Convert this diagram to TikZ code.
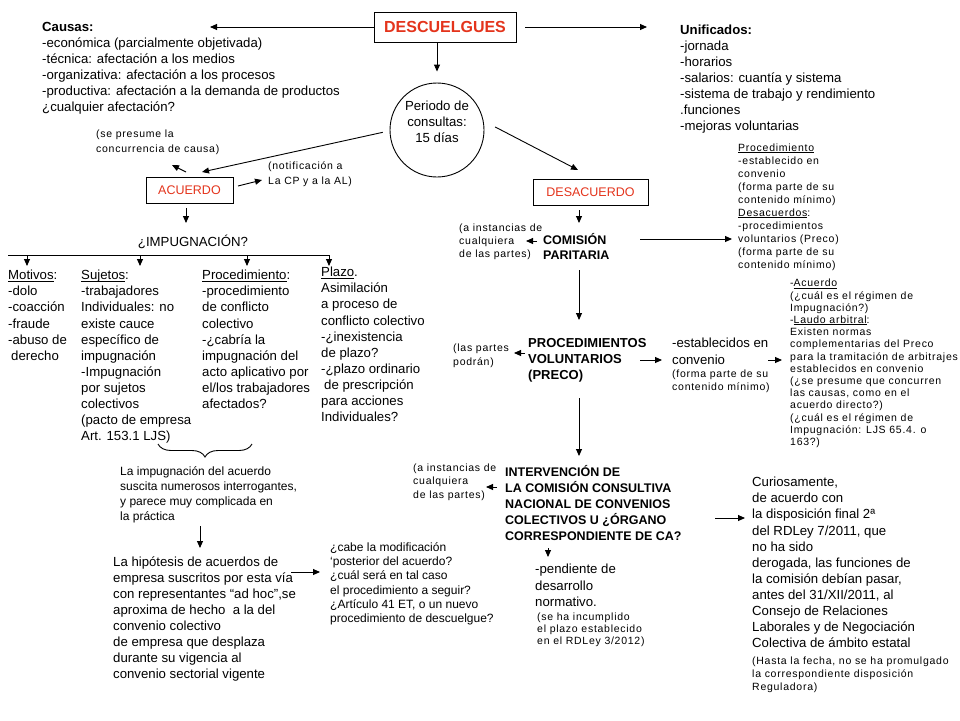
\documentclass[tikz,border=0pt]{standalone}
\usepackage{fontspec}
\setmainfont{Liberation Sans}
\newfontfamily\spacedsans[LetterSpace=7]{Liberation Sans}
\usetikzlibrary{arrows.meta,decorations.pathreplacing}
\definecolor{descred}{RGB}{228,52,28}
\newcommand{\mf}[1]{\fontsize{13.2}{#1}\selectfont}
\newcommand{\smf}[1]{\spacedsans\fontsize{10.5}{#1}\selectfont}
\newcommand{\undl}[1]{\setbox0\hbox{#1}\rlap{\rule[-1.6pt]{\wd0}{0.7pt}}\box0}
\tikzset{
  txt/.style={anchor=north west, inner sep=0pt, align=left},
  redbox/.style={draw, line width=0.9pt, inner sep=0pt, text=descred},
  arr/.style={draw, line width=0.9pt, -{Triangle[length=7pt,width=6pt]}},
  ln/.style={draw, line width=0.9pt}
}
\begin{document}
\begin{tikzpicture}[x=1pt,y=-1pt]
\useasboundingbox[fill=white] (0,0) rectangle (960,720);

% ---------- top ----------
\node[redbox, minimum width=142pt, minimum height=30pt, font=\fontsize{16}{18}\selectfont\bfseries] (desc) at (445,27) {DESCUELGUES};
\node[txt, font=\mf{16}] (causas) at (42,22.5) {\textbf{Causas:}\\
-económica (parcialmente objetivada)\\
-técnica: afectación a los medios\\
-organizativa: afectación a los procesos\\
-productiva: afectación a la demanda de productos\\
¿cualquier afectación?};
\node[txt, font=\mf{16}] (unif) at (680,25) {\textbf{Unificados:}\\-jornada\\-horarios\\-salarios: cuantía y sistema\\-sistema de trabajo y rendimiento\\.funciones\\-mejoras voluntarias};
\coordinate (causasTip) at (210,27);
\coordinate (unifTip) at (647,27);
\draw[arr] (desc.west) -- (causasTip);
\draw[arr, shorten <=9pt] (desc.east) -- (unifTip);

\node[draw, circle, line width=0.9pt, minimum size=94pt, inner sep=0pt] (circ) at (437,130) {};
\node[align=center, inner sep=0pt, font=\mf{16}] (circtxt) at (437,122) {Periodo de\\consultas:\\15 días};
\draw[arr, shorten >=11pt] (desc.south -| circ.north) -- (circ.north);

% ---------- ACUERDO ----------
\node[redbox, minimum width=87pt, minimum height=26pt, font=\fontsize{12.5}{14}\selectfont] (acu) at (189.5,190) {ACUERDO};
\coordinate (acuTip) at (202,172);
\draw[arr, shorten <=7pt] (circ.181.8) -- (acuTip);
\node[txt, font=\smf{15}] (presume) at (96,130) {(se presume la\\concurrencia de causa)};
\node[txt, font=\smf{15}] (notif) at (268,162) {(notificación a\\La CP y a la AL)};
\coordinate (presA) at (186,172);
\coordinate (presB) at (172,165);
\draw[arr] (presA) -- (presB);
\coordinate (notA) at (238,186);
\coordinate (notB) at (262,180);
\draw[arr] (notA) -- (notB);
\node[anchor=base, inner sep=0pt, font=\mf{16}] (impug) at (193,246.5) {¿IMPUGNACIÓN?};
\coordinate (acuDown) at (186,223);
\draw[arr] (acu.south -| acuDown) ++(0,5) -- (acuDown);

% horizontal distributor
\coordinate (hL) at (8,255);
\coordinate (hR) at (330,255);
\draw[ln] (hL) -- (hR);
\foreach \xx/\nm in {27/a,140/b,247/c,329/d}{
  \coordinate (h\nm) at (\xx,255);
  \coordinate (t\nm) at (\xx,266);
  \draw[arr] (h\nm) -- (t\nm);
}

\node[txt, font=\mf{16.1}] (motivos) at (8,270) {\undl{Motivos}:\\-dolo\\-coacción\\-fraude\\-abuso de\\\hspace*{3pt}derecho};
\node[txt, font=\mf{16.1}] (sujetos) at (81,270) {\undl{Sujetos}:\\-trabajadores\\Individuales: no\\existe cauce\\específico de\\impugnación\\-Impugnación\\por sujetos\\colectivos\\(pacto de empresa\\Art. 153.1 LJS)};
\node[txt, font=\mf{16.1}] (procimp) at (202,270) {\undl{Procedimiento}:\\-procedimiento\\de conflicto\\colectivo\\-¿cabría la\\impugnación del\\acto aplicativo por\\el/los trabajadores\\afectados?};
\node[txt, font=\mf{16.1}] (plazo) at (321,267) {\undl{Plazo}.\\Asimilación\\a proceso de\\conflicto colectivo\\-¿inexistencia\\de plazo?\\-¿plazo ordinario\\\hspace*{3pt}de prescripción\\para acciones\\Individuales?};

\coordinate (brL) at (158,444);
\coordinate (brR) at (252,444);
\draw[ln, decorate, decoration={brace, mirror, amplitude=13pt}] (brL) -- (brR);

\node[txt, font=\fontsize{12}{15.3}\selectfont] (impdesc) at (120,466) {La impugnación del acuerdo\\suscita numerosos interrogantes,\\y parece muy complicada en\\la práctica};
\coordinate (hipA) at (200,526);
\coordinate (hipB) at (200,548);
\draw[arr] (hipA) -- (hipB);
\node[txt, font=\mf{16}] (hipot) at (113,557) {La hipótesis de acuerdos de\\empresa suscritos por esta vía\\con representantes “ad hoc”,se\\aproxima de hecho\ \ a la del\\convenio colectivo\\de empresa que desplaza\\durante su vigencia al\\convenio sectorial vigente};
\node[txt, font=\fontsize{12}{14.2}\selectfont] (cabe) at (330,542.5) {¿cabe la modificación\\‘posterior del acuerdo?\\¿cuál será en tal caso\\el procedimiento a seguir?\\¿Artículo 41 ET, o un nuevo\\procedimiento de descuelgue?};
\coordinate (cabA) at (291,572);
\coordinate (cabB) at (320,572);
\draw[arr] (cabA) -- (cabB);

% ---------- DESACUERDO ----------
\node[redbox, minimum width=115pt, minimum height=26pt, font=\fontsize{12.5}{14}\selectfont] (desac) at (590.5,192) {DESACUERDO};
\coordinate (desTip) at (578,170);
\draw[arr, shorten <=13pt] (circ.11) -- (desTip);
\coordinate (desDown) at (579,223);
\draw[arr] (desac.south -| desDown) ++(0,5) -- (desDown);

\node[txt, font=\fontsize{12.5}{15.5}\selectfont\bfseries] (comis) at (543,233) {COMISIÓN\\PARITARIA};
\node[txt, font=\smf{12.7}] (inst1) at (459,224) {(a instancias de\\cualquiera\\de las partes)};
\coordinate (c1A) at (537,241);
\coordinate (c1B) at (526,241);
\draw[arr] (c1A) -- (c1B);
\coordinate (comR) at (640,239);
\coordinate (comRt) at (732,239);
\draw[arr] (comR) -- (comRt);
\node[txt, font=\smf{13}] (procconv) at (738,143.5) {\undl{Procedimiento}\\-establecido en\\convenio\\(forma parte de su\\contenido mínimo)\\\undl{Desacuerdos}:\\-procedimientos\\voluntarios (Preco)\\(forma parte de su\\contenido mínimo)};
\coordinate (comD) at (579,270);
\coordinate (comDt) at (579,320);
\draw[arr] (comD) -- (comDt);

\node[txt, font=\fontsize{13}{16}\selectfont\bfseries] (preco) at (528,338) {PROCEDIMIENTOS\\VOLUNTARIOS\\(PRECO)};
\node[txt, font=\smf{14}] (partes) at (453,343.5) {(las partes\\podrán)};
\coordinate (p1A) at (525,353);
\coordinate (p1B) at (514,353);
\draw[arr] (p1A) -- (p1B);
\coordinate (pR) at (640,360);
\coordinate (pRt) at (662,360);
\draw[arr] (pR) -- (pRt);
\node[txt, font=\mf{17}] (estab) at (672,338) {-establecidos en\\convenio};
\node[txt, font=\smf{13}] (estabsm) at (672,369.5) {(forma parte de su\\contenido mínimo)};
\coordinate (eR) at (768,360);
\coordinate (eRt) at (782,360);
\draw[arr] (eR) -- (eRt);
\node[txt, font=\smf{12.2}] (laudo) at (790,279) {-\undl{Acuerdo}\\(¿cuál es el régimen de\\Impugnación?)\\-\undl{Laudo arbitral}:\\Existen normas\\complementarias del Preco\\para la tramitación de arbitrajes\\establecidos en convenio\\(¿se presume que concurren\\las causas, como en el\\acuerdo directo?)\\(¿cuál es el régimen de\\Impugnación: LJS 65.4. o\\163?)};
\coordinate (pD) at (579,398);
\coordinate (pDt) at (579,456);
\draw[arr] (pD) -- (pDt);

% ---------- INTERVENCION ----------
\node[txt, font=\fontsize{12.5}{16}\selectfont\bfseries] (interv) at (505,465) {INTERVENCIÓN DE\\LA COMISIÓN CONSULTIVA\\NACIONAL DE CONVENIOS\\COLECTIVOS U ¿ÓRGANO\\CORRESPONDIENTE DE CA?};
\node[txt, font=\smf{13.5}] (inst2) at (413,463.5) {(a instancias de\\cualquiera\\de las partes)};
\coordinate (i1A) at (497,487);
\coordinate (i1B) at (486,487);
\draw[arr] (i1A) -- (i1B);
\coordinate (iR) at (715,518);
\coordinate (iRt) at (745,518);
\draw[arr] (iR) -- (iRt);
\coordinate (iD) at (548,548);
\coordinate (iDt) at (548,557);
\draw[arr] (iD) -- (iDt);
\node[txt, font=\mf{16.5}] (pend) at (535,564) {-pendiente de\\desarrollo\\normativo.};
\node[txt, font=\smf{12}] (pendsm) at (537,612.5) {(se ha incumplido\\el plazo establecido\\en el RDLey 3/2012)};
\node[txt, font=\mf{16.1}] (curios) at (752,477) {Curiosamente,\\de acuerdo con\\la disposición final 2ª\\del RDLey 7/2011, que\\no ha sido\\derogada, las funciones de\\la comisión debían pasar,\\antes del 31/XII/2011, al\\Consejo de Relaciones\\Laborales y de Negociación\\Colectiva de ámbito estatal};
\node[txt, font=\smf{13}] (curiossm) at (752,656.5) {(Hasta la fecha, no se ha promulgado\\la correspondiente disposición\\Reguladora)};
\end{tikzpicture}
\end{document}
